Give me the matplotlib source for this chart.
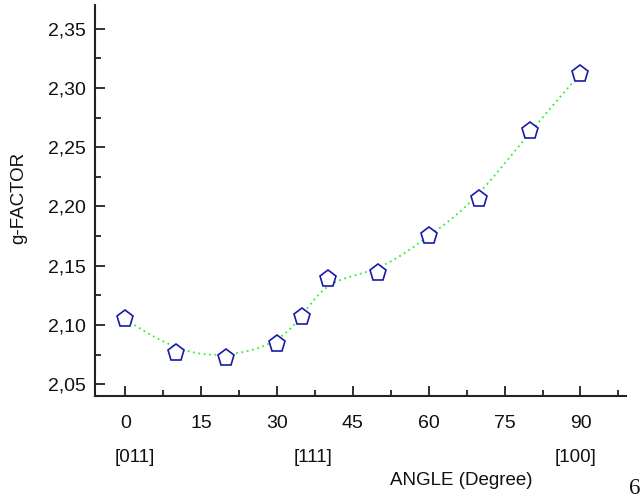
import numpy as np
import matplotlib
matplotlib.use("Agg")
import matplotlib.pyplot as plt
from matplotlib.ticker import MultipleLocator, FuncFormatter

angle = [0, 10, 20, 30, 35, 40, 50, 60, 70, 80, 90]
gfactor = [2.105, 2.076, 2.072, 2.084, 2.107, 2.139, 2.144, 2.175, 2.206, 2.264, 2.312]
xticks = [0, 15, 30, 45, 60, 75, 90]
yticks = [2.05, 2.10, 2.15, 2.20, 2.25, 2.30, 2.35]
dir_labels = ["[011]", "[111]", "[100]"]
dir_angles = [0, 35.26, 90]


def bspline(px, py, n=400, k=3):
    px = np.asarray(px, float)
    py = np.asarray(py, float)
    m = len(px)
    inner = np.linspace(0, 1, m - k + 1)
    t = np.concatenate([np.zeros(k), inner, np.ones(k)])
    us = np.linspace(0, 1, n)
    out_x, out_y = [], []
    for u in us:
        if u >= 1:
            out_x.append(px[-1]); out_y.append(py[-1]); continue
        j = np.searchsorted(t, u, side="right") - 1
        dx = [px[j - k + i] for i in range(k + 1)]
        dy = [py[j - k + i] for i in range(k + 1)]
        for r in range(1, k + 1):
            for i in range(k, r - 1, -1):
                a = (u - t[j - k + i]) / (t[j + 1 + i - r] - t[j - k + i])
                dx[i] = (1 - a) * dx[i - 1] + a * dx[i]
                dy[i] = (1 - a) * dy[i - 1] + a * dy[i]
        out_x.append(dx[k]); out_y.append(dy[k])
    return np.array(out_x), np.array(out_y)


plt.rcParams['font.family'] = ['Liberation Sans', 'DejaVu Sans']

W, H = 641, 498
fig = plt.figure(figsize=(W / 100, H / 100), dpi=100)
ax = fig.add_axes([95 / W, 1 - 396 / H, (626 - 95) / W, (396 - 5) / H])

cx, cy = bspline(angle, gfactor)
ax.plot(cx, cy, linestyle=(0, (1, 2)), color="#2ef02e", linewidth=1.3, zorder=2)
ax.plot(angle, gfactor, linestyle="none", marker="p", markersize=12.8,
        markerfacecolor="white", markeredgecolor="#1a1aa8", markeredgewidth=1.2, zorder=3)

ax.set_xlim(-6, 99)
ax.set_ylim(2.04, 2.37)
ax.set_xticks(xticks)
ax.set_yticks(yticks)
ax.xaxis.set_minor_locator(MultipleLocator(7.5))
ax.yaxis.set_minor_locator(MultipleLocator(0.025))
ax.yaxis.set_major_formatter(FuncFormatter(lambda v, p: f"{v:.2f}".replace(".", ",")))

for s in ["top", "right"]:
    ax.spines[s].set_visible(False)
for s in ["left", "bottom"]:
    ax.spines[s].set_linewidth(1.5)
    ax.spines[s].set_color("#222222")

ax.tick_params(axis="both", which="major", direction="in", length=7, width=1.3,
               labelsize=14, color="#222222", labelcolor="#111111")
ax.tick_params(axis="both", which="minor", direction="in", length=4, width=1.3,
               color="#222222")
ax.tick_params(axis="x", which="major", pad=14)
ax.tick_params(axis="y", which="major", pad=6.5)

fig.text(19 / W, 1 - 198 / H, "g-FACTOR", fontsize=13.5, rotation=90,
         ha="center", va="center", color="#111111")

dir_px = [134.5, 313, 576]
for lab, xp in zip(dir_labels, dir_px):
    fig.text(xp / W, 1 - 457 / H, lab, fontsize=13.5, ha="center", va="center",
             color="#111111")

fig.text(461.5 / W, 1 - 480 / H, "ANGLE (Degree)", fontsize=13.5,
         ha="center", va="center", color="#111111")
fig.text(635 / W, 1 - 488 / H, "6", fontsize=16.5, family="Liberation Serif",
         ha="center", va="center", color="#111111")

fig.savefig("out.png", dpi=100)
